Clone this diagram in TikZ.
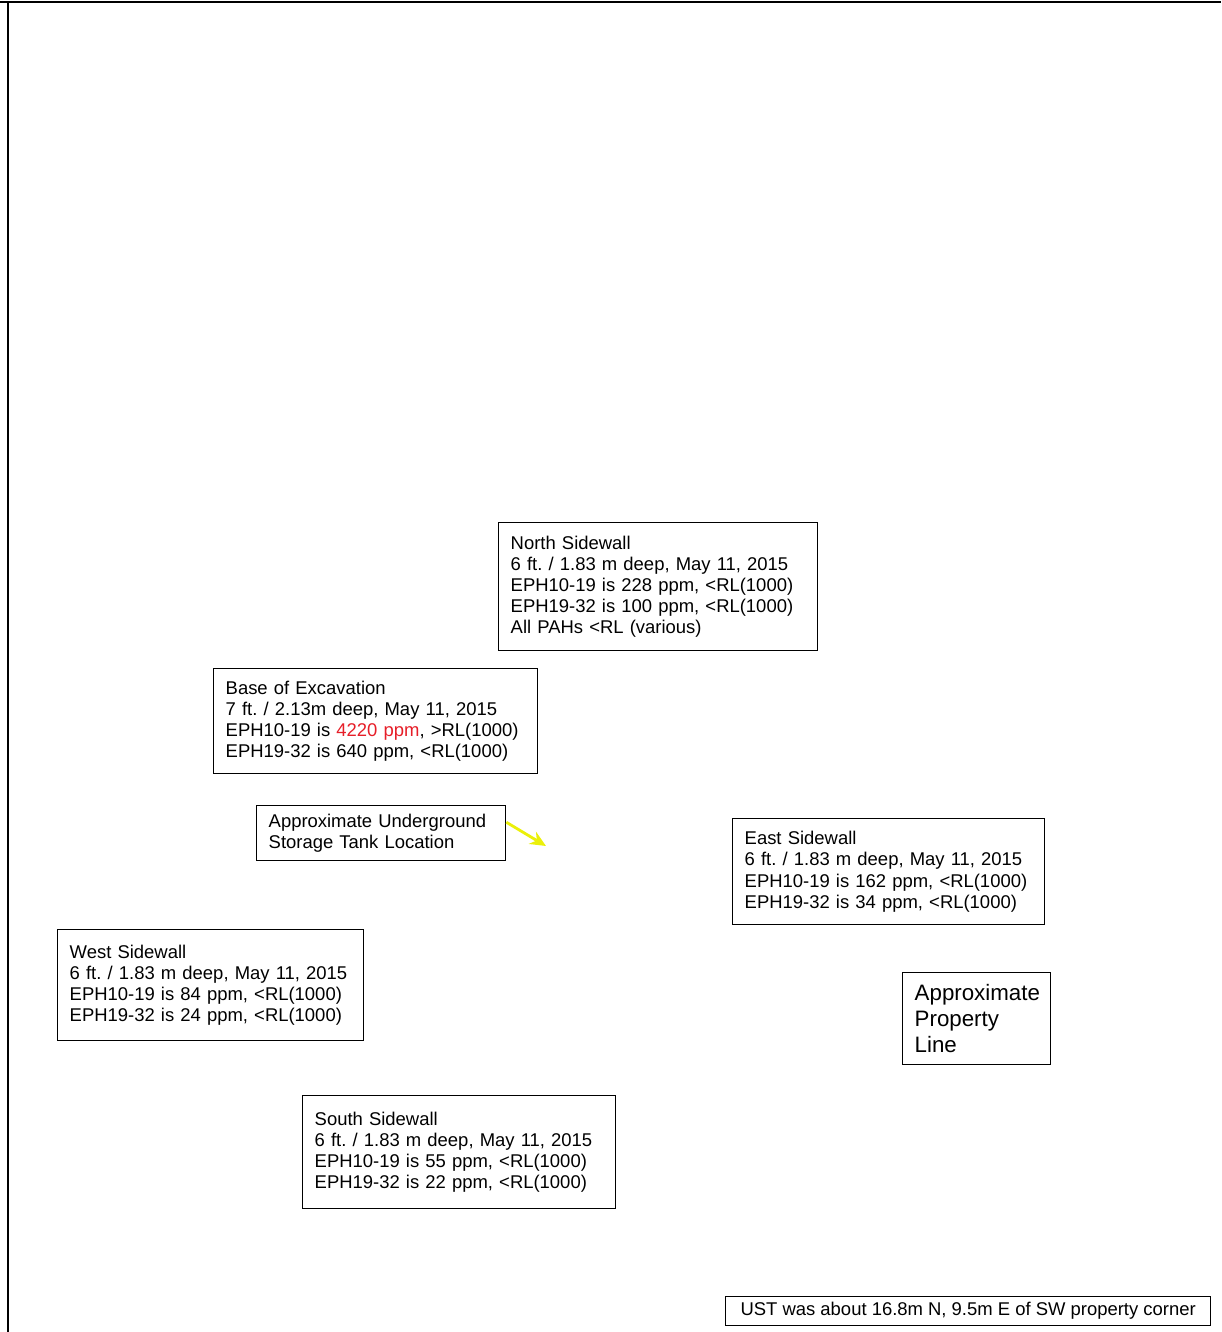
\documentclass[tikz,border=0pt]{standalone}
\usepackage{fontspec}
\setmainfont{Liberation Sans}
\usetikzlibrary{arrows.meta}
\frenchspacing
\definecolor{markyellow}{RGB}{235,240,10}
\definecolor{hotred}{RGB}{230,30,40}
\tikzset{
  infobox/.style={draw, line width=0.8pt, anchor=north west, align=left,
    inner xsep=0.24cm, inner ysep=0pt,
    font=\fontsize{10.5}{12}\selectfont},
  tankarrow/.style={markyellow, line width=1.6pt, -{Stealth[length=9pt,width=8pt]}}
}
\begin{document}
\begin{tikzpicture}[x=0.02cm, y=-0.02cm]
% Page size and frame
\useasboundingbox (0,0) rectangle (1221,1332);
\draw[line width=1.1pt] (0,2) -- (1221,2);
\draw[line width=1.1pt] (8,2) -- (8,1332);

% Sample boxes
\node[infobox, text width=5.9cm, minimum height=2.56cm] (north) at (498,522)
  {North Sidewall\\6 ft. / 1.83 m deep, May 11, 2015\\EPH10-19 is 228 ppm, <RL(1000)\\EPH19-32 is 100 ppm, <RL(1000)\\All PAHs <RL (various)};
\node[infobox, text width=6.0cm, minimum height=2.1cm] (base) at (213,668)
  {Base of Excavation\\7 ft. / 2.13m deep, May 11, 2015\\EPH10-19 is \textcolor{hotred}{4220 ppm}, >RL(1000)\\EPH19-32 is 640 ppm, <RL(1000)};
\node[infobox, text width=4.5cm, minimum height=1.1cm, font=\fontsize{10.5}{11.5}\selectfont] (ust) at (256,805)
  {Approximate Underground\\Storage Tank Location};
\node[infobox, text width=5.76cm, minimum height=2.12cm] (east) at (732,818)
  {East Sidewall\\6 ft. / 1.83 m deep, May 11, 2015\\EPH10-19 is 162 ppm, <RL(1000)\\EPH19-32 is 34 ppm, <RL(1000)};
\node[infobox, text width=5.64cm, minimum height=2.22cm] (west) at (57,929)
  {West Sidewall\\6 ft. / 1.83 m deep, May 11, 2015\\EPH10-19 is 84 ppm, <RL(1000)\\EPH19-32 is 24 ppm, <RL(1000)};
\node[infobox, text width=2.48cm, minimum height=1.84cm, font=\fontsize{12.7}{14.8}\selectfont] (propline) at (902,972)
  {Approximate\\Property\\Line};
\node[infobox, align=center, minimum width=9.7cm, minimum height=0.58cm] (note) at (725,1296)
  {UST was about 16.8m N, 9.5m E of SW property corner};
\node[infobox, text width=5.78cm, minimum height=2.26cm] (south) at (302,1095)
  {South Sidewall\\6 ft. / 1.83 m deep, May 11, 2015\\EPH10-19 is 55 ppm, <RL(1000)\\EPH19-32 is 22 ppm, <RL(1000)};

% Tank pointer
\coordinate (tankloc) at (546,846);
\draw[tankarrow] (ust.5) -- (tankloc);
\end{tikzpicture}
\end{document}
